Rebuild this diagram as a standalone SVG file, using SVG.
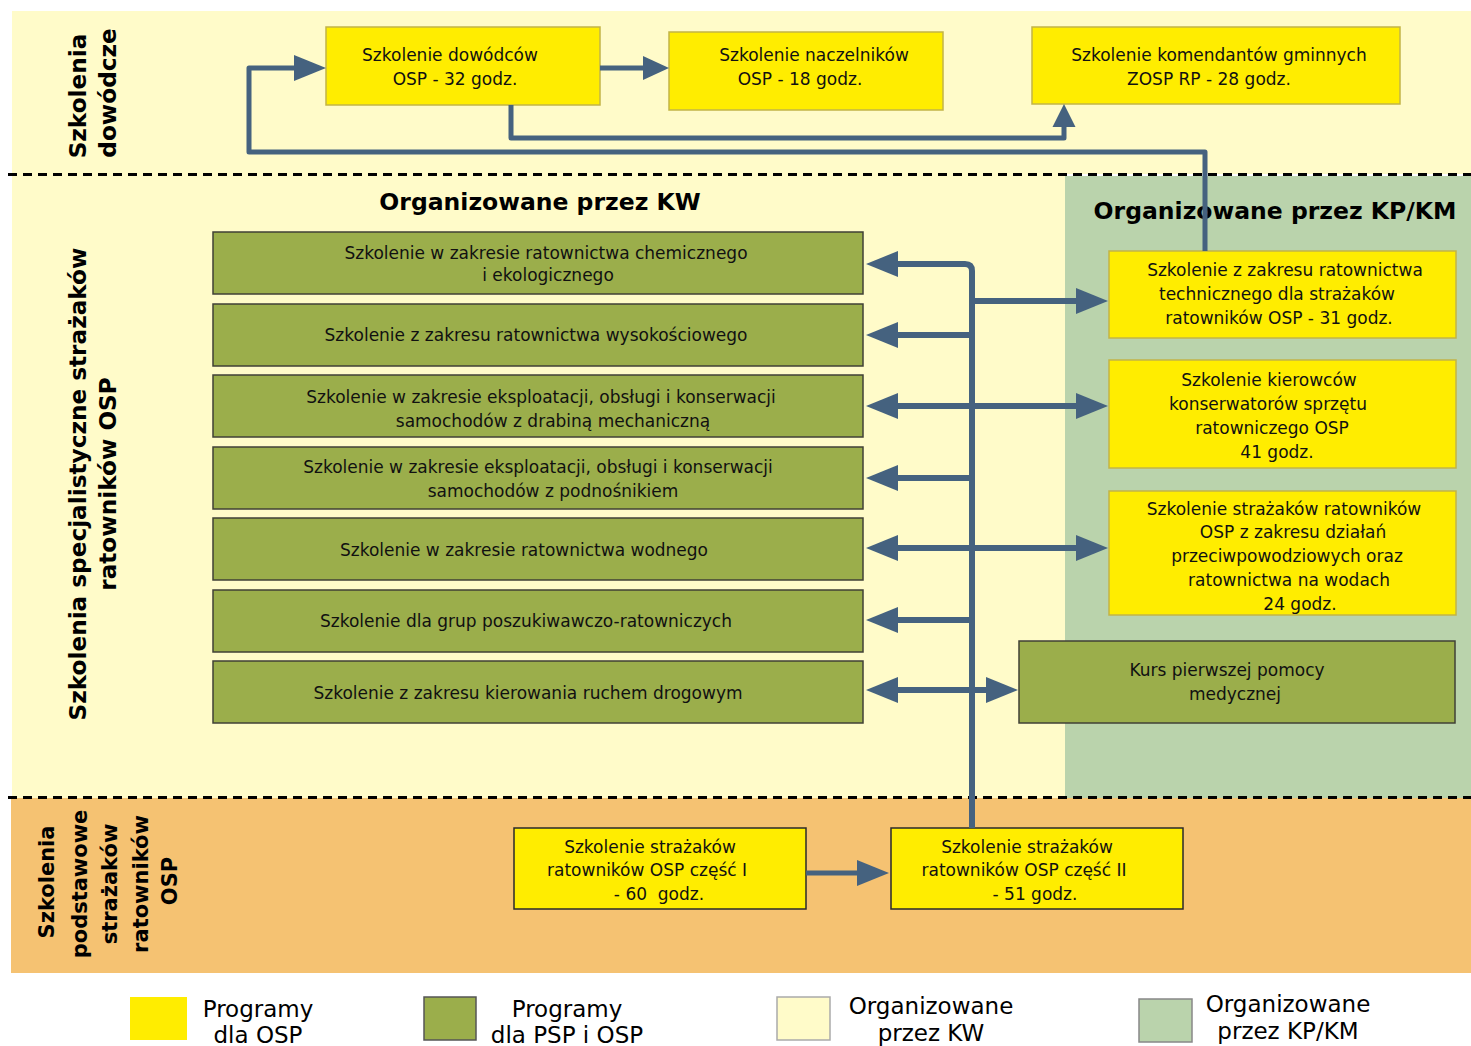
<svg xmlns="http://www.w3.org/2000/svg" width="1471" height="1046" viewBox="0 0 1471 1046">
<style>
.t{font-family:"DejaVu Sans",Verdana,sans-serif;font-size:17px;fill:#111;text-anchor:middle}
.h{font-family:"DejaVu Sans",Verdana,sans-serif;font-size:23.5px;font-weight:bold;fill:#000;text-anchor:middle}
.v{font-family:"DejaVu Sans",Verdana,sans-serif;font-size:23.2px;font-weight:bold;fill:#000;text-anchor:middle}
.vs{font-family:"DejaVu Sans",Verdana,sans-serif;font-size:21px;font-weight:bold;fill:#000;text-anchor:middle}
.lg{font-family:"DejaVu Sans",Verdana,sans-serif;font-size:23px;fill:#000;text-anchor:middle}
.y{fill:#FFED00;stroke:#C2B447;stroke-width:1.5}
.yd{fill:#FFED00;stroke:#2a2a2a;stroke-width:1.5}
.g{fill:#9BAE4B;stroke:#404036;stroke-width:1.5}
.c{fill:none;stroke:#45627F;stroke-width:6;stroke-linejoin:round}
.c5{fill:none;stroke:#45627F;stroke-width:5;stroke-linejoin:round}
.dash{stroke:#000;stroke-width:3;stroke-dasharray:9 6;fill:none}
</style>
<defs>
<marker id="arr" markerUnits="userSpaceOnUse" markerWidth="32" markerHeight="26" refX="0" refY="13" orient="auto-start-reverse" overflow="visible"><path d="M0,0 L32,13 L0,26 Z" fill="#45627F"/></marker>
<marker id="arrT" markerUnits="userSpaceOnUse" markerWidth="26" markerHeight="24" refX="0" refY="12" orient="auto" overflow="visible"><path d="M0,0 L26,12 L0,24 Z" fill="#45627F"/></marker>
<marker id="arrS" markerUnits="userSpaceOnUse" markerWidth="23" markerHeight="23" refX="0" refY="11.5" orient="auto" overflow="visible"><path d="M0,0 L23,11.5 L0,23 Z" fill="#45627F"/></marker>
</defs>
<rect width="1471" height="1046" fill="#fff"/>
<g id="bands">
<rect x="12" y="11" width="1459" height="163" fill="#FFFBC9"/>
<rect x="12" y="174" width="1053" height="624" fill="#FFFBC9"/>
<rect x="1065" y="176" width="406" height="622" fill="#BAD3AC"/>
<rect x="11" y="798" width="1460" height="175" fill="#F5C272"/>
<line class="dash" x1="8" y1="174.5" x2="1471" y2="174.5"/>
<line class="dash" x1="8" y1="797.5" x2="1471" y2="797.5"/>
</g>
<g id="section-labels">
<text class="v" transform="translate(86,96) rotate(-90)">Szkolenia</text>
<text class="v" transform="translate(116,93) rotate(-90)">dowódcze</text>
<text class="v" transform="translate(86,484) rotate(-90)">Szkolenia specjalistyczne strażaków</text>
<text class="v" transform="translate(116,484) rotate(-90)">ratowników OSP</text>
<text class="vs" transform="translate(54,882) rotate(-90)">Szkolenia</text>
<text class="vs" transform="translate(87,884) rotate(-90)">podstawowe</text>
<text class="vs" transform="translate(117,884) rotate(-90)">strażaków</text>
<text class="vs" transform="translate(148,884) rotate(-90)">ratowników</text>
<text class="vs" transform="translate(177,881) rotate(-90)">OSP</text>
<text class="h" x="540" y="210">Organizowane przez KW</text>
<text class="h" x="1275" y="219">Organizowane przez KP/KM</text>
</g>
<g id="n-dowodcow"><rect class="y" x="326" y="27" width="274" height="78"/><text class="t" x="450" y="61">Szkolenie dowódców</text><text class="t" x="455" y="85">OSP - 32 godz.</text></g>
<g id="n-naczelnikow"><rect class="y" x="669" y="32" width="274" height="78"/><text class="t" x="814" y="61">Szkolenie naczelników</text><text class="t" x="800" y="85">OSP - 18 godz.</text></g>
<g id="n-komendantow"><rect class="y" x="1032" y="27" width="368" height="77"/><text class="t" x="1219" y="61">Szkolenie komendantów gminnych</text><text class="t" x="1209" y="85">ZOSP RP - 28 godz.</text></g>
<g id="n-chem"><rect class="g" x="213" y="232" width="650" height="62"/><text class="t" x="546" y="259">Szkolenie w zakresie ratownictwa chemicznego</text><text class="t" x="548" y="281">i ekologicznego</text></g>
<g id="n-wys"><rect class="g" x="213" y="304" width="650" height="62"/><text class="t" x="536" y="341">Szkolenie z zakresu ratownictwa wysokościowego</text></g>
<g id="n-drabina"><rect class="g" x="213" y="375" width="650" height="62"/><text class="t" x="541" y="403">Szkolenie w zakresie eksploatacji, obsługi i konserwacji</text><text class="t" x="553" y="427">samochodów z drabiną mechaniczną</text></g>
<g id="n-podnosnik"><rect class="g" x="213" y="447" width="650" height="62"/><text class="t" x="538" y="473">Szkolenie w zakresie eksploatacji, obsługi i konserwacji</text><text class="t" x="553" y="497">samochodów z podnośnikiem</text></g>
<g id="n-wodne"><rect class="g" x="213" y="518" width="650" height="62"/><text class="t" x="524" y="556">Szkolenie w zakresie ratownictwa wodnego</text></g>
<g id="n-poszuk"><rect class="g" x="213" y="590" width="650" height="62"/><text class="t" x="526" y="627">Szkolenie dla grup poszukiwawczo-ratowniczych</text></g>
<g id="n-ruch"><rect class="g" x="213" y="661" width="650" height="62"/><text class="t" x="528" y="699">Szkolenie z zakresu kierowania ruchem drogowym</text></g>
<g id="n-techniczne"><rect class="y" x="1109" y="251" width="347" height="87"/><text class="t" x="1285" y="276">Szkolenie z zakresu ratownictwa</text><text class="t" x="1277" y="300">technicznego dla strażaków</text><text class="t" x="1279" y="324">ratowników OSP - 31 godz.</text></g>
<g id="n-kierowcow"><rect class="y" x="1109" y="360" width="347" height="108"/><text class="t" x="1269" y="386">Szkolenie kierowców</text><text class="t" x="1268" y="410">konserwatorów sprzętu</text><text class="t" x="1272" y="434">ratowniczego OSP</text><text class="t" x="1277" y="458">41 godz.</text></g>
<g id="n-powodz"><rect class="y" x="1109" y="491" width="347" height="124"/><text class="t" x="1284" y="515">Szkolenie strażaków ratowników</text><text class="t" x="1293" y="538">OSP z zakresu działań</text><text class="t" x="1287" y="562">przeciwpowodziowych oraz</text><text class="t" x="1289" y="586">ratownictwa na wodach</text><text class="t" x="1300" y="610">24 godz.</text></g>
<g id="n-kurs"><rect class="g" x="1019" y="641" width="436" height="82" stroke="#1a1a1a"/><text class="t" x="1227" y="676">Kurs pierwszej pomocy</text><text class="t" x="1235" y="700">medycznej</text></g>
<g id="n-czesc1"><rect class="yd" x="514" y="828" width="292" height="81"/><text class="t" x="650" y="853">Szkolenie strażaków</text><text class="t" x="647" y="876">ratowników OSP część I</text><text class="t" x="659" y="900" xml:space="preserve">- 60  godz.</text></g>
<g id="n-czesc2"><rect class="yd" x="891" y="828" width="292" height="81"/><text class="t" x="1027" y="853">Szkolenie strażaków</text><text class="t" x="1024" y="876">ratowników OSP część II</text><text class="t" x="1035" y="900">- 51 godz.</text></g>
<g id="connectors">
<path class="c5" d="M600,68 H643" marker-end="url(#arrT)"/>
<path class="c5" d="M511,105 V138 H1064 V127" marker-end="url(#arrS)"/>
<path class="c5" d="M1205,251 V152 H249 V68 H294" marker-end="url(#arr)"/>
<path class="c" d="M972,828 V271 Q972,264 965,264 H898" marker-end="url(#arr)"/>
<path class="c" d="M972,335 H898" marker-end="url(#arr)"/>
<path class="c" d="M972,301 H1076" marker-end="url(#arr)"/>
<path class="c" d="M898,406 H1076" marker-start="url(#arr)" marker-end="url(#arr)"/>
<path class="c" d="M972,478 H898" marker-end="url(#arr)"/>
<path class="c" d="M898,548 H1076" marker-start="url(#arr)" marker-end="url(#arr)"/>
<path class="c" d="M972,620 H898" marker-end="url(#arr)"/>
<path class="c" d="M898,690 H986" marker-start="url(#arr)" marker-end="url(#arr)"/>
<path class="c5" d="M806,873 H857" marker-end="url(#arr)"/>
</g>
<g id="legend">
<rect x="130" y="997" width="57" height="43" fill="#FFED00"/>
<text class="lg" x="258" y="1017">Programy</text><text class="lg" x="258" y="1043">dla OSP</text>
<rect x="424" y="997" width="52" height="43" fill="#9BAE4B" stroke="#555" stroke-width="1.5"/>
<text class="lg" x="567" y="1017">Programy</text><text class="lg" x="567" y="1043">dla PSP i OSP</text>
<rect x="777" y="997" width="53" height="43" fill="#FFFBC9" stroke="#aaa" stroke-width="1.5"/>
<text class="lg" x="931" y="1014">Organizowane</text><text class="lg" x="931" y="1041">przez KW</text>
<rect x="1139" y="999" width="53" height="43" fill="#BAD3AC" stroke="#888" stroke-width="1.5"/>
<text class="lg" x="1288" y="1012">Organizowane</text><text class="lg" x="1288" y="1039">przez KP/KM</text>
</g>
</svg>
